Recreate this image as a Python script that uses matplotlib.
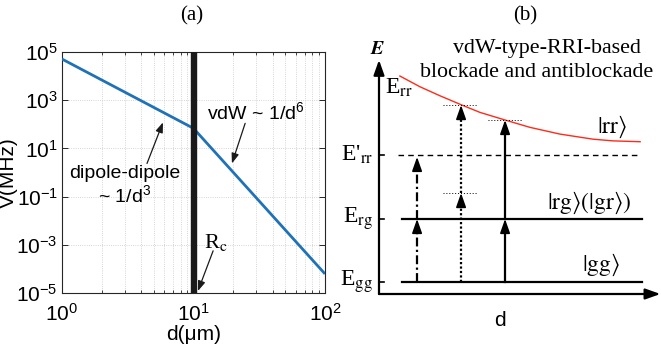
import numpy as np
import matplotlib.pyplot as plt
from matplotlib.ticker import LogLocator, NullLocator

plt.rcParams['font.family'] = ['Liberation Sans', 'DejaVu Sans']
plt.rcParams['mathtext.fontset'] = 'custom'
plt.rcParams['mathtext.rm'] = 'Liberation Sans'
plt.rcParams['mathtext.it'] = 'Liberation Sans:italic'
plt.rcParams['mathtext.bf'] = 'Liberation Sans:bold'
plt.rcParams['axes.unicode_minus'] = False

# (a) interaction strength vs distance
d_um = [1, 10, 100]
V_MHz = [5.1e4, 68, 6.2e-5]
Rc = 10

# (b) level scheme, arbitrary units
E_gg = 0.43
E_rg = 2.66
E_rr_prime = 4.93
d_rr = [0.74, 1.45, 2.16, 2.94, 3.58, 4.47, 5.35, 6.42, 7.59, 8.30, 9.26]
E_rr = [7.73, 7.35, 7.03, 6.70, 6.44, 6.17, 5.91, 5.67, 5.49, 5.43, 5.40]
x_dashdot, x_dotted, x_solid = 1.35, 2.91, 4.47
E_virtual = 3.58      # dotted intermediate level
E_dot_top = 6.70      # where the dotted arrow meets |rr>
E_solid_top = 6.17    # where the solid arrow meets |rr>

fig = plt.figure(figsize=(6.61, 3.53), dpi=100)
serif = ['Liberation Serif', 'DejaVu Serif']

# ---------------- panel (a) ----------------
ax = fig.add_axes([62/661, (353-293)/353, 263/661, 241/353])
ax.set_xscale('log')
ax.set_yscale('log')
ax.set_xlim(1, 100)
ax.set_ylim(1e-5, 1e5)
ax.plot(d_um, V_MHz, color='#1f72b8', lw=2.0, zorder=3, solid_capstyle='butt')
ax.axvline(Rc, color='#1a1a1a', lw=4.6, zorder=4)

ax.set_yticks([1e-5, 1e-3, 1e-1, 1e1, 1e3, 1e5])
ax.yaxis.set_minor_locator(NullLocator())
ax.xaxis.set_minor_locator(LogLocator(base=10, subs=np.arange(2, 10)))
ax.grid(True, which='major', axis='y', ls=':', color='#c8c8c8', lw=0.6)
ax.grid(True, which='both', axis='x', ls=':', color='#c8c8c8', lw=0.6)
ax.tick_params(which='both', direction='in', top=True, right=True,
               color='#262626', labelsize=15)
ax.tick_params(axis='y', pad=3)
ax.tick_params(axis='x', pad=7)
ax.tick_params(which='major', length=4, width=0.7)
ax.tick_params(which='minor', length=2.5, width=0.6)
for s in ax.spines.values():
    s.set_color('#262626')
    s.set_linewidth(0.8)
ax.set_xlabel('d(μm)', fontsize=15)
ax.set_ylabel('V(MHz)', fontsize=15)
ax.xaxis.set_label_coords(0.5, -0.133)
ax.yaxis.set_label_coords(-0.166, 0.5)

arr = dict(arrowstyle='-|>,head_length=0.6,head_width=0.22', color='#1a1a1a',
           lw=0.9, shrinkA=0, shrinkB=0)
ax.text(30, 10**2.5, r'vdW ~ 1/d$^6$', fontsize=14, ha='center', va='center')
ax.annotate('', xy=(19.6, 10**0.375), xytext=(24.7, 10**2.04), arrowprops=arr)
ax.text(3.0, 10**-0.55, 'dipole-dipole\n' + r'~ 1/d$^3$', fontsize=14,
        ha='center', va='center', linespacing=1.15)
ax.annotate('', xy=(5.86, 10**2.08), xytext=(4.43, 10**0.375), arrowprops=arr)
ax.text(14.8, 10**-2.9, r'R$_\mathrm{c}$', fontsize=16, ha='center',
        va='center', family=serif, math_fontfamily='stix')
ax.annotate('', xy=(10.8, 10**-4.92), xytext=(14.1, 10**-3.25), arrowprops=arr)

fig.text(192/661, 1 - 16/353, '(a)', fontsize=15, family=serif,
         ha='center', va='center')

# ---------------- panel (b) ----------------
bx = fig.add_axes([379/661, (353-294)/353, 282/661, 242/353])
bx.set_xlim(0, 10)
bx.set_ylim(0, 242/28.2)
bx.axis('off')

axis_arr = dict(arrowstyle='-|>,head_length=0.9,head_width=0.32', color='k',
                lw=1.6, shrinkA=0, shrinkB=0)
bx.annotate('', xy=(0, 8.3), xytext=(0, 0), arrowprops=axis_arr,
            annotation_clip=False)
bx.annotate('', xy=(9.98, 0), xytext=(0, 0), arrowprops=axis_arr,
            annotation_clip=False)

bx.plot([0.82, 9.33], [E_gg, E_gg], color='k', lw=1.6)
bx.plot([0.82, 9.33], [E_rg, E_rg], color='k', lw=1.6)
bx.plot([0.67, 9.26], [E_rr_prime, E_rr_prime], color='k', lw=1.0,
        ls=(0, (4, 3)))
bx.plot(d_rr, E_rr, color='#ff2a1a', lw=1.0)
for E in (E_gg, E_rg, E_rr_prime):
    bx.plot([0, 0.16], [E, E], color='k', lw=1.2, clip_on=False)

# dotted guides at the two-photon targets
bx.plot([2.27, 3.51], [E_virtual, E_virtual], color='k', lw=0.7, ls=(0, (1, 2)))
bx.plot([2.27, 3.51], [E_dot_top, E_dot_top], color='k', lw=0.7, ls=(0, (1, 2)))
bx.plot([3.87, 5.11], [E_solid_top, E_solid_top], color='k', lw=0.7,
        ls=(0, (1, 2)))

head = dict(arrowstyle='-|>,head_length=0.85,head_width=0.3', color='k',
            lw=1.2, shrinkA=0, shrinkB=0)


def excite(x, y0, y1, ls):
    bx.plot([x, x], [y0, y1 - 0.25], color='k', lw=1.6, ls=ls)
    bx.annotate('', xy=(x, y1), xytext=(x, y1 - 0.5), arrowprops=head)


excite(x_dashdot, E_gg, E_rg, (0, (4, 1.5, 1, 1.5)))
excite(x_dashdot, E_rg, E_rr_prime - 0.07, (0, (4, 1.5, 1, 1.5)))
excite(x_dotted, E_gg, E_virtual, (0, (1, 1)))
excite(x_dotted, E_virtual, E_dot_top, (0, (1, 1)))
excite(x_solid, E_gg, E_rg, '-')
excite(x_solid, E_rg, E_solid_top, '-')

mt = dict(family=serif, math_fontfamily='stix')
bx.text(-0.06, 8.68, r'$\boldsymbol{E}$', fontsize=14, ha='center',
        va='center', clip_on=False, **mt)
bx.text(0.2, 7.3, r'E$_{\mathrm{rr}}$', fontsize=17, ha='left',
        va='center', **mt)
bx.text(-0.2, E_rr_prime, r"E'$_{\mathrm{rr}}$", fontsize=17,
        ha='right', va='center', clip_on=False, **mt)
bx.text(-0.2, E_rg, r'E$_{\mathrm{rg}}$', fontsize=17, ha='right',
        va='center', clip_on=False, **mt)
bx.text(-0.2, E_gg, r'E$_{\mathrm{gg}}$', fontsize=17, ha='right',
        va='center', clip_on=False, **mt)
bx.text(8.26, 5.92, r'$|\mathrm{rr}\rangle$', fontsize=17, ha='center',
        va='center', **mt)
bx.text(7.45, 3.23, r'$|\mathrm{rg}\rangle(|\mathrm{gr}\rangle)$',
        fontsize=17, ha='center', va='center', **mt)
bx.text(7.87, 1.03, r'$|\mathrm{gg}\rangle$', fontsize=17, ha='center',
        va='center', **mt)
bx.text(5.95, 8.7, 'vdW-type-RRI-based', fontsize=15.8, ha='center',
        va='center', family=serif, clip_on=False)
bx.text(5.6, 7.85, 'blockade and antiblockade', fontsize=15.8, ha='center',
        va='center', family=serif, clip_on=False)
bx.text(4.3, -0.95, 'd', fontsize=15, ha='center', va='center', clip_on=False)

fig.text(525/661, 1 - 16/353, '(b)', fontsize=15, family=serif,
         ha='center', va='center')

fig.savefig('out.png', dpi=100)
